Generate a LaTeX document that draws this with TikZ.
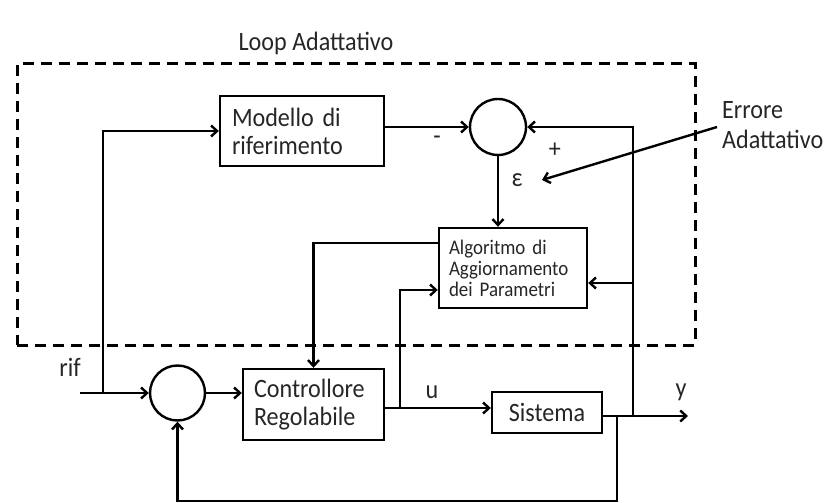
\documentclass[tikz,border=0pt]{standalone}
\usepackage{fontspec}
\setmainfont{Carlito}[FakeStretch=0.91]
\usetikzlibrary{arrows.meta,calc}
\begin{document}
\begin{tikzpicture}[x=1pt,y=-1pt, line width=2.4pt,
  blk/.style={draw, rectangle, inner sep=0pt, text=black!85, font=\fontsize{26.5}{28}\selectfont},
  sumc/.style={draw, circle, minimum size=55pt, inner sep=0pt},
  arr/.style={-{Straight Barb[length=6pt,width=11pt]}},
  lbl/.style={inner sep=0pt, text=black!85, font=\fontsize{26.5}{28}\selectfont},
  loopbox/.style={draw, line width=3pt, dash pattern=on 11pt off 7pt, inner sep=0pt}]
\useasboundingbox (0,0) rectangle (831,503);

\node[lbl] (title) at (316,43) {Loop Adattativo};
\node[loopbox, minimum width=678pt, minimum height=281pt] (loop) at (356,204.5) {};

\node[blk, minimum width=164pt, minimum height=70pt, text width=140pt, align=left] (modello) at (302,131) {Modello di\\riferimento};
\node[sumc, minimum size=56pt] (sum1) at (498,127) {};
\node[blk, minimum width=148pt, minimum height=80pt, text width=128pt, align=left,
      font=\fontsize{20.8}{21}\selectfont] (algo) at (513,268) {Algoritmo di\\Aggiornamento\\dei Parametri};
\node[sumc] (sum2) at (177.5,393) {};
\node[blk, minimum width=141pt, minimum height=71pt, text width=119pt, align=left,
      font=\fontsize{26.5}{27.5}\selectfont] (ctrl) at (313.5,404.5) {Controllore\\Regolabile};
\node[blk, minimum width=110pt, minimum height=41pt] (sistema) at (547,412.5) {Sistema};

\node[lbl] (rif) at (70,367) {rif};
\node[lbl] (u) at (432,392) {u};
\node[lbl] (y) at (681,392) {y};
\node[lbl] (eps) at (517,180) {ε};
\node[lbl] (minus) at (437,140) {-};
\node[lbl] (plus) at (555,150) {+};
\node[lbl, align=left, anchor=west, font=\fontsize{26.5}{30}\selectfont] (errore) at (721,125) {Errore\\Adattativo};

\coordinate (rifin) at (80,393);
\coordinate (rifb) at (103,393);
\coordinate (ub) at (400,408);
\coordinate (yo) at (688,416);
\coordinate (fb) at (617,416);
\coordinate (fb2) at (617,501);
\coordinate (rb) at (633,416);
\coordinate (ar) at ($(algo.east)+(0,15)$);
\coordinate (al) at ($(algo.west)+(0,22)$);
\coordinate (ao) at ($(algo.west)+(0,-25)$);
\coordinate (et) at (542,180);

\draw[arr] (rifin) -- (sum2.west);
\draw[arr] (rifb) |- (modello.west);
\draw[arr] (modello.east |- sum1.west) -- (sum1.west);
\draw[arr] (sum1.south) -- (sum1.south |- algo.north);
\draw[arr] (sum2.east) -- (sum2.east -| ctrl.west);
\draw[arr] (ctrl.east |- ub) -- (sistema.west |- ub);
\draw[arr] (ub) |- (al);
\draw[arr] (ao) -| (ctrl.north);
\draw[arr] (sistema.east |- yo) -- (yo);
\draw[arr] (fb) -- (fb2) -| (sum2.south);
\draw[arr] (rb) |- (sum1.east);
\draw[arr] (rb |- ar) -- (ar);
\draw[arr] ($(errore.west)+(-4,2)$) -- (et);
\end{tikzpicture}
\end{document}
